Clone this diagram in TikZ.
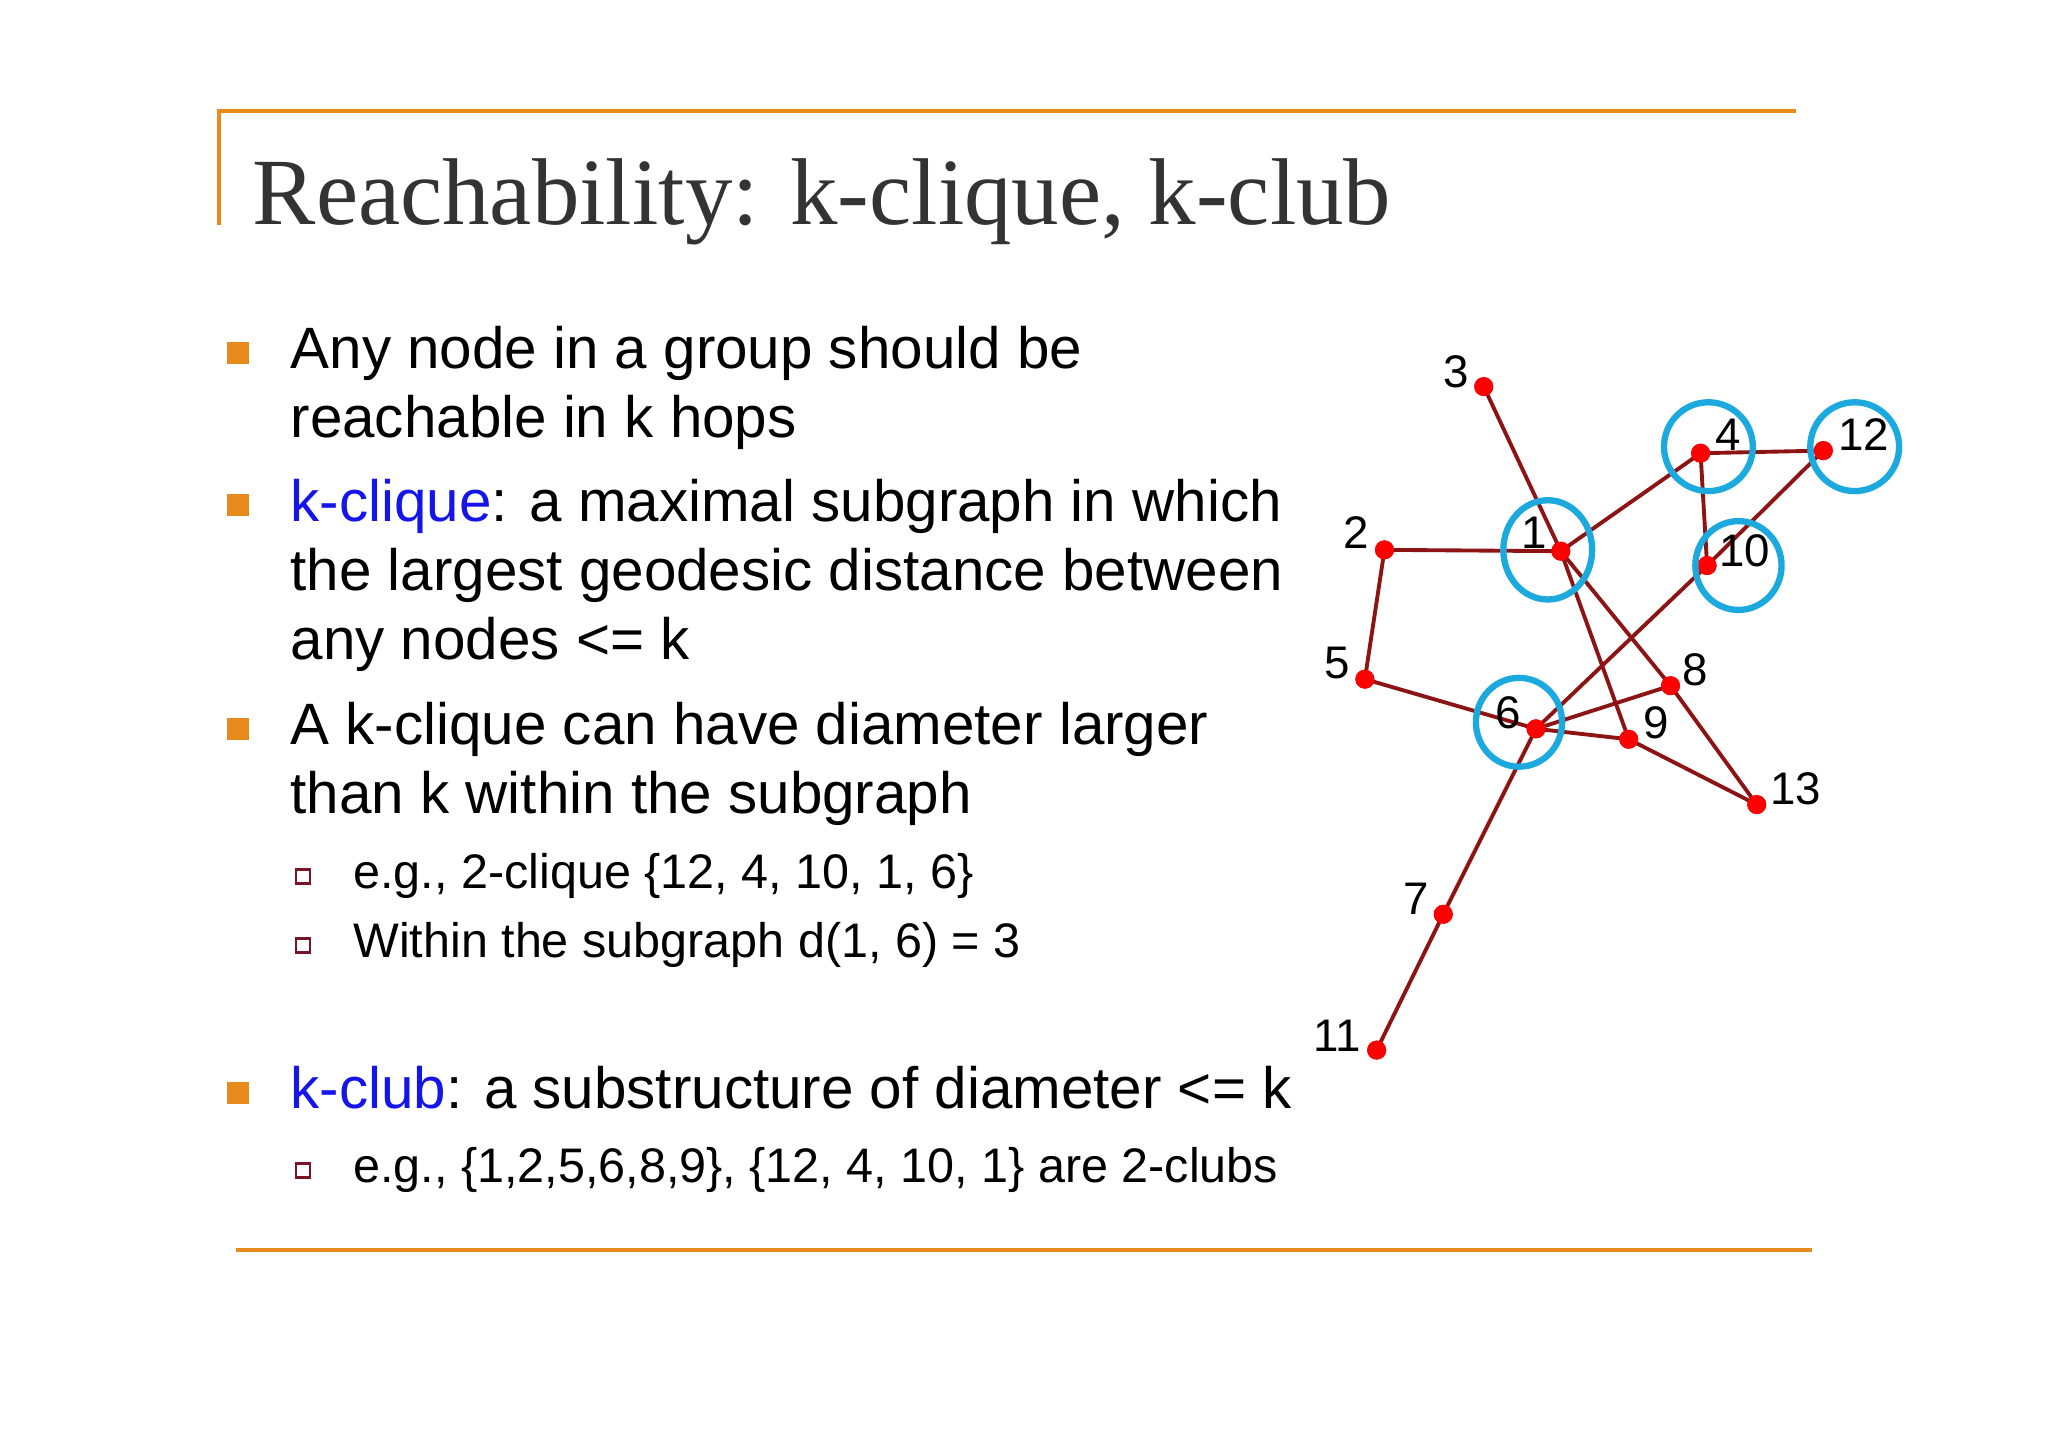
\documentclass[tikz,border=0pt]{standalone}
\usepackage{fontspec}
\setmainfont{Liberation Sans}
\newfontfamily\titlefont{Liberation Serif}
\definecolor{orng}{RGB}{232,138,28}
\definecolor{edgec}{RGB}{140,20,20}
\definecolor{cblue}{RGB}{28,170,222}
\definecolor{kblue}{RGB}{20,20,235}
\definecolor{sqred}{RGB}{120,20,40}
\begin{document}
\begin{tikzpicture}[x=0.01306cm,y=-0.01306cm,
  body/.style={anchor=base west,inner sep=0,font=\fontsize{16.6pt}{20pt}\selectfont},
  sub/.style={anchor=base west,inner sep=0,font=\fontsize{13.8pt}{16pt}\selectfont},
  bul/.style={fill=orng,minimum size=0.22cm,inner sep=0},
  sbul/.style={draw=sqred,line width=0.8pt,minimum size=0.14cm,inner sep=0},
  dot/.style={circle,fill=red,inner sep=0,minimum size=0.19cm},
  lab/.style={font=\fontsize{13pt}{15pt}\selectfont,inner sep=0},
  edge/.style={draw=edgec,line width=1.1pt}]
\useasboundingbox (0,0) rectangle (1568,1108.7);
\fill[white] (0,0) rectangle (1568,1108.7);
\draw[orng,line width=1.1pt] (168,172) -- (168,85) -- (1375,85);
\draw[orng,line width=1.1pt] (181,957) -- (1387,957);
\node[anchor=base west,inner sep=0,text=black!80,font=\titlefont\fontsize{27pt}{32pt}\selectfont] (title) at (193,172) {Reachability: k-clique, k-club};
% bullets
\node[bul] (b1) at (182,270) {};
\node[body] (t1) at (222,282) {Any node in a group should be};
\node[body] (t1b) at (222,335) {reachable in k hops};
\node[bul] (b2) at (182,387) {};
\node[body] (t2) at (222,399) {\textcolor{kblue}{k-clique}: a maximal subgraph in which};
\node[body] (t2b) at (222,452) {the largest geodesic distance between};
\node[body] (t2c) at (222,505) {any nodes <= k};
\node[bul] (b3) at (182,558) {};
\node[body] (t3) at (222,570) {A k-clique can have diameter larger};
\node[body] (t3b) at (222,623) {than k within the subgraph};
\node[sbul] (s1) at (232,671) {};
\node[sub] (u1) at (270,680) {e.g., 2-clique \{12, 4, 10, 1, 6\}};
\node[sbul] (s2) at (232,724) {};
\node[sub] (u2) at (270,733) {Within the subgraph d(1, 6) = 3};
\node[bul] (b4) at (182,837) {};
\node[body] (t4) at (222,849) {\textcolor{kblue}{k-club}: a substructure of diameter <= k};
\node[sbul] (s3) at (232,896) {};
\node[sub] (u3) at (270,905) {e.g., \{1,2,5,6,8,9\}, \{12, 4, 10, 1\} are 2-clubs};
% graph nodes
\node[dot] (n1) at (1195,422) {};
\node[dot] (n2) at (1060,421) {};
\node[dot] (n3) at (1136,296) {};
\node[dot] (n4) at (1302,347) {};
\node[dot] (n5) at (1045,520) {};
\node[dot] (n6) at (1176,558) {};
\node[dot] (n7) at (1105,700) {};
\node[dot] (n8) at (1279,525) {};
\node[dot] (n9) at (1247,566) {};
\node[dot] (n10) at (1307,433) {};
\node[dot] (n11) at (1054,804) {};
\node[dot] (n12) at (1396,345) {};
\node[dot] (n13) at (1345,616) {};
\foreach \a/\b in {3/1,2/1,1/4,4/12,4/10,12/10,10/6,2/5,5/6,1/9,1/8,8/6,6/9,9/13,8/13,6/7,7/11}
  \draw[edge] (n\a.center) -- (n\b.center);
\foreach \n in {1,...,13} \fill[red] (n\n) circle (0.095cm);
\node[lab] (l1) at (1175,408) {1};
\node[lab] (l2) at (1038,408) {2};
\node[lab] (l3) at (1115,285) {3};
\node[lab] (l4) at (1323,333) {4};
\node[lab] (l5) at (1024,508) {5};
\node[lab] (l6) at (1155,546) {6};
\node[lab] (l7) at (1084,688) {7};
\node[lab] (l8) at (1298,513) {8};
\node[lab] (l9) at (1268,553) {9};
\node[lab] (l10) at (1336,422) {10};
\node[lab] (l11) at (1024,793) {11};
\node[lab] (l12) at (1427,333) {12};
\node[lab] (l13) at (1375,604) {13};
\draw[cblue,line width=1.8pt] (1185,421) ellipse [x radius=34,y radius=38];
\draw[cblue,line width=1.8pt] (1308,342) ellipse [x radius=34,y radius=34];
\draw[cblue,line width=1.8pt] (1420,342) ellipse [x radius=34,y radius=34];
\draw[cblue,line width=1.8pt] (1331,433) ellipse [x radius=33,y radius=34];
\draw[cblue,line width=1.8pt] (1163,553) ellipse [x radius=33,y radius=34];
\end{tikzpicture}
\end{document}
